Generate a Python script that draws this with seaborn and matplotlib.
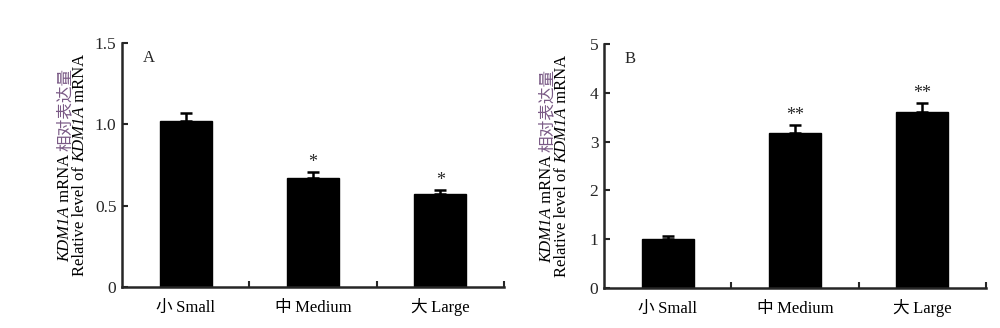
import matplotlib
matplotlib.use("Agg")
import matplotlib.pyplot as plt
from matplotlib.transforms import IdentityTransform
import seaborn as sns
import numpy as np
import pandas as pd

# ---- data ----
categories = ["小 Small", "中 Medium", "大 Large"]
values_a = [1.02, 0.67, 0.57]
errors_a = [0.05, 0.035, 0.025]
sig_a = ["", "*", "*"]
values_b = [1.01, 3.17, 3.61]
errors_b = [0.06, 0.16, 0.18]
sig_b = ["", "**", "**"]
yticks_a = [0, 0.5, 1.0, 1.5]
yticklabels_a = ["0", "0.5", "1.0", "1.5"]
yticks_b = [0, 1, 2, 3, 4, 5]
yticklabels_b = ["0", "1", "2", "3", "4", "5"]
panel_labels = ["A", "B"]

SERIF = ["Liberation Serif", "Noto Sans CJK SC"]
CJK = ["Noto Sans CJK SC"]

sns.set_style("ticks")
plt.rcParams["font.family"] = SERIF
plt.rcParams["font.size"] = 11

fig = plt.figure(figsize=(10, 3.28), dpi=100)
ax_a = fig.add_axes([0.122, 0.125, 0.382, 0.744])
ax_b = fig.add_axes([0.604, 0.122, 0.382, 0.744])

def draw_panel(ax, values, errors, sig, yticks, yticklabels, ymax, label):
    df = pd.DataFrame({"cat": categories, "val": values})
    sns.barplot(data=df, x="cat", y="val", color="black", width=0.41,
                errorbar=None, ax=ax, saturation=1)
    for p in ax.patches:
        p.set_edgecolor("black")
    x = np.arange(len(values))
    ax.errorbar(x, values, yerr=[np.zeros(len(errors)), errors], fmt="none",
                ecolor="black", elinewidth=1.8, capsize=4, capthick=1.8)
    for xi, v, e, s in zip(x, values, errors, sig):
        if s:
            ax.annotate(s, (xi, v + e), xytext=(0, 1), textcoords="offset points",
                        ha="center", va="bottom", fontsize=13)
    ax.set_xlim(-0.5, 2.5)
    ax.set_ylim(0, ymax)
    ax.set_yticks(yticks)
    ax.set_yticklabels(yticklabels, fontsize=12.5)
    ax.set_xticks([0.5, 1.5, 2.5])
    ax.set_xticklabels([])
    ax.tick_params(axis="x", which="major", direction="in", length=4, width=1.5)
    ax.tick_params(axis="y", direction="in", length=4, width=1.5, pad=4)
    ax.set_xlabel("")
    ax.set_ylabel("")
    sns.despine(ax=ax)
    for sp in ["left", "bottom"]:
        ax.spines[sp].set_linewidth(1.8)
    ax.text(0.055, 0.94, label, transform=ax.transAxes, fontsize=12,
            ha="left", va="center")

draw_panel(ax_a, values_a, errors_a, sig_a, yticks_a, yticklabels_a, 1.5, panel_labels[0])
draw_panel(ax_b, values_b, errors_b, sig_b, yticks_b, yticklabels_b, 5, panel_labels[1])

fig.canvas.draw()
renderer = fig.canvas.get_renderer()

def text_run(x0, y0, parts, rotation, fontsize):
    """Place text pieces of different styles one after another (display px)."""
    texts = []
    for s, style, color, fam in parts:
        t = fig.text(0, 0, s, transform=IdentityTransform(), rotation=rotation,
                     rotation_mode="anchor", ha="left",
                     va="center" if rotation else "baseline",
                     fontsize=fontsize, fontstyle=style, color=color, family=fam)
        texts.append(t)
    fig.canvas.draw()
    if rotation:
        lens = [t.get_window_extent(renderer).height for t in texts]
    else:
        lens = [t.get_window_extent(renderer).width for t in texts]
    total = sum(lens)
    pos = (y0 if rotation else x0) - total / 2
    for t, L in zip(texts, lens):
        t.set_position((x0, pos) if rotation else (pos, y0))
        pos += L

purple = "#7a5a86"
for ax in (ax_a, ax_b):
    bb = ax.get_window_extent(renderer)
    ycen = (bb.y0 + bb.y1) / 2
    # category labels: CJK character + English word
    for i, cat in enumerate(categories):
        zh, en = cat.split(" ", 1)
        xc = ax.transData.transform((i, 0))[0]
        text_run(xc, bb.y0 - 25, [(zh, "normal", "black", CJK),
                                  (" " + en, "normal", "black", ["Liberation Serif"])],
                 0, 12)
    # y-axis label, two lines
    text_run(bb.x0 - 57, ycen, [("KDM1A", "italic", "black", SERIF),
                                (" mRNA ", "normal", "black", SERIF),
                                ("相对表达量", "normal", purple, CJK)], 90, 12)
    text_run(bb.x0 - 42, ycen, [("Relative level of ", "normal", "black", SERIF),
                                ("KDM1A", "italic", "black", SERIF),
                                (" mRNA", "normal", "black", SERIF)], 90, 12)

fig.savefig("out.png", dpi=100)
